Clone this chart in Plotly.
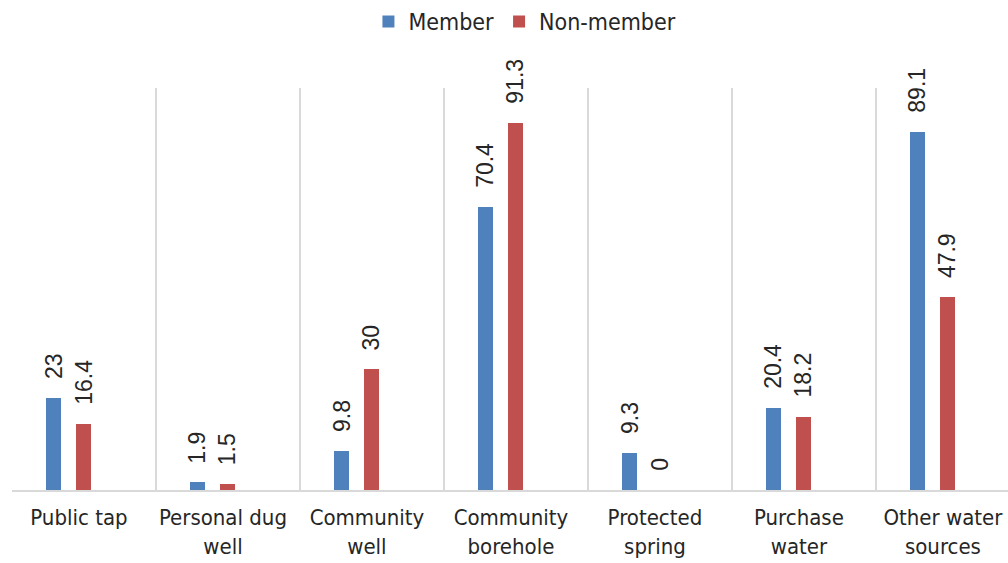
import plotly.graph_objects as go

categories = ["Public tap", "Personal dug<br>well", "Community<br>well", "Community<br>borehole",
              "Protected<br>spring", "Purchase<br>water", "Other water<br>sources"]
member = [23, 1.9, 9.8, 70.4, 9.3, 20.4, 89.1]
non_member = [16.4, 1.5, 30, 91.3, 0, 18.2, 47.9]
member_labels = ["23", "1.9", "9.8", "70.4", "9.3", "20.4", "89.1"]
non_member_labels = ["16.4", "1.5", "30", "91.3", "0", "18.2", "47.9"]

BLUE = "#4F81BD"
RED = "#C0504D"
NARROW = "Liberation Sans Narrow, Arial Narrow, DejaVu Sans Condensed, sans-serif"
REG = "Liberation Sans, Arial, sans-serif"

OFF_M = -0.265
OFF_N = -0.058
BW = 0.105
LABEL_SHIFT = -0.035

idx = list(range(len(categories)))

fig = go.Figure()
fig.add_trace(go.Bar(x=idx, y=member, name="Member", marker=dict(color=BLUE, line=dict(width=0)),
                     offset=OFF_M, width=BW))
fig.add_trace(go.Bar(x=idx, y=non_member, name="Non-member", marker=dict(color=RED, line=dict(width=0)),
                     offset=OFF_N, width=BW))

ann = []
for i, v, t in zip(idx, member, member_labels):
    ann.append(dict(x=i + OFF_M + BW / 2, y=v, xref="x", yref="y", text=t, showarrow=False,
                    textangle=-90, yanchor="bottom", xanchor="center", yshift=17,
                    font=dict(family=REG, size=23, color="#262626")))
for i, v, t in zip(idx, non_member, non_member_labels):
    ann.append(dict(x=i + OFF_N + BW / 2, y=v, xref="x", yref="y", text=t, showarrow=False,
                    textangle=-90, yanchor="bottom", xanchor="center", yshift=17,
                    font=dict(family=REG, size=23, color="#262626")))

fig.update_layout(
    width=1008, height=563,
    margin=dict(l=12, r=0, t=88, b=73, autoexpand=False),
    paper_bgcolor="white", plot_bgcolor="white",
    showlegend=True,
    legend=dict(orientation="h", x=0.515, xanchor="center", y=1.0, yref="container", yanchor="top",
                font=dict(family=NARROW, size=23, color="#262626"), itemwidth=30,
                traceorder="normal", bgcolor="rgba(0,0,0,0)"),
    annotations=ann,
    bargap=0, barmode="overlay",
)
fig.update_xaxes(
    tickmode="array", tickvals=[i + LABEL_SHIFT for i in idx], ticktext=categories,
    range=[-0.5, 6.417],
    showgrid=False, automargin=False, tickangle=0, ticklabeloverflow="allow",
    minor=dict(tickmode="array", tickvals=[i - 0.5 for i in idx], showgrid=True,
               gridcolor="#D9D9D9", gridwidth=2, ticks=""),
    showline=True, linecolor="#D9D9D9", linewidth=2,
    ticks="", ticklabelstandoff=7,
    tickfont=dict(family=NARROW, size=22, color="#262626"),
    zeroline=False, fixedrange=True,
)
fig.update_yaxes(range=[0, 100], showgrid=False, showticklabels=False, zeroline=False,
                 showline=False, ticks="", automargin=False)

fig.write_html("out.html", config={"displayModeBar": False},
               post_script="document.body.style.margin='0';document.body.style.overflow='hidden';")
